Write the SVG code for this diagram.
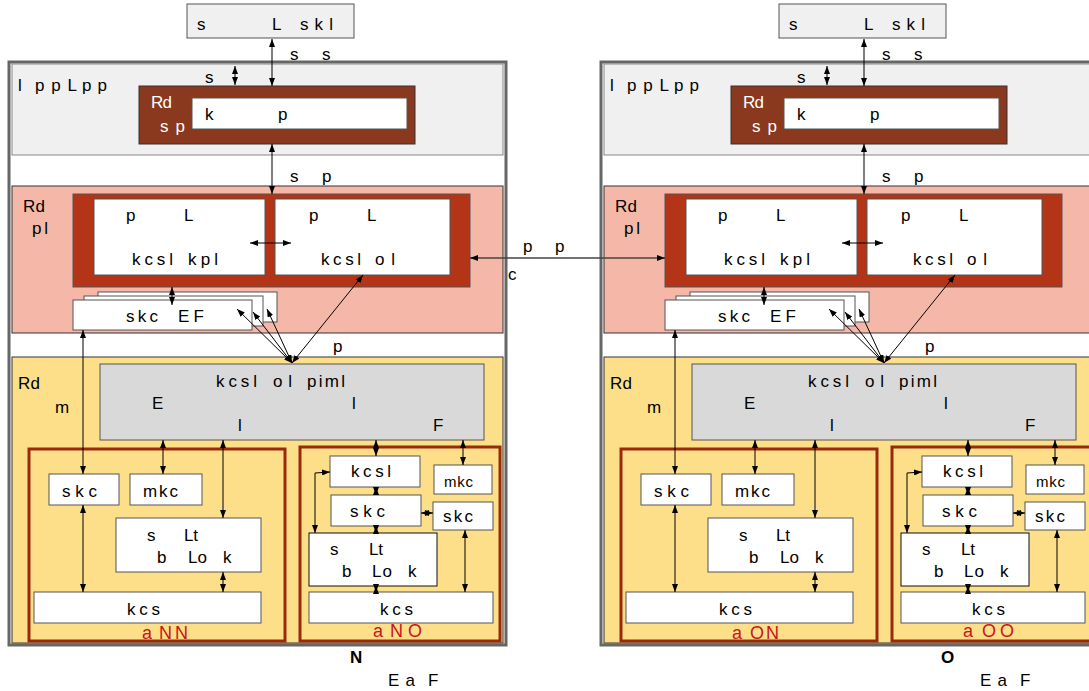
<svg xmlns="http://www.w3.org/2000/svg" width="1089" height="691" viewBox="0 0 1089 691">
<style>
text{font-family:"Liberation Sans",Arial,sans-serif;font-size:17px;fill:#000}
.w{fill:#fff}
.r{fill:#c8161a;font-size:18px}
.sm{font-size:15px}
.b{font-weight:bold}
.frame{fill:#fff;stroke:#666;stroke-width:3}
.band1{fill:#f0f0f0;stroke:#888;stroke-width:1}
.band2{fill:#f5b8a8;stroke:#333;stroke-width:1}
.band3{fill:#fddf8a;stroke:#333;stroke-width:1}
.box{fill:#fff;stroke:#555;stroke-width:1}
.boxd{fill:#fff;stroke:#111;stroke-width:1}
.gbox{fill:#f0f0f0;stroke:#555;stroke-width:1}
.brown{fill:#8a381e;stroke:#333;stroke-width:1}
.dred{fill:#b43417;stroke:#555;stroke-width:1}
.gray{fill:#d9d9d9;stroke:#555;stroke-width:1}
.clu{fill:#fddf8a;stroke:#9a2a0c;stroke-width:3}
.c{fill:none;stroke:#000;stroke-width:1;marker-start:url(#ah);marker-end:url(#ah)}
.cx{fill:none;stroke:#444;stroke-width:1.5;marker-start:url(#ah);marker-end:url(#ah)}
</style>
<defs>
<marker id="ah" viewBox="0 0 8 6" refX="8" refY="3" markerWidth="8" markerHeight="6" markerUnits="userSpaceOnUse" orient="auto-start-reverse">
<path d="M0,0 L8,3 L0,6 z" fill="#000"/>
</marker>
</defs>

<!-- LEFT PANEL -->
<g id="panel1">
  <g id="p1-server"><rect class="gbox" x="187" y="4" width="167" height="34"/>
    <text x="197" y="30">s</text><text x="272" y="30">L</text><text x="300" y="30" textLength="33">skl</text></g>
  <g id="p1-frame"><rect class="frame" x="9" y="62" width="497" height="583"/></g>
  <g id="p1-band-app"><rect class="band1" x="12" y="64" width="491" height="91"/>
    <text x="18" y="91">l</text><text x="35" y="91" textLength="42">ppL</text><text x="82" y="91" textLength="25">pp</text></g>
  <g id="p1-band-mid"><rect class="band2" x="12" y="186" width="491" height="147"/>
    <text x="23" y="212" textLength="22">Rd</text><text x="32" y="234" textLength="16">pl</text></g>
  <g id="p1-band-low"><rect class="band3" x="12" y="357" width="491" height="286"/>
    <text x="18" y="389" textLength="22">Rd</text><text x="55" y="413">m</text></g>
  <g id="p1-rdsp"><rect class="brown" x="139" y="86" width="276" height="58"/>
    <text class="w" x="151" y="108" textLength="21">Rd</text><text class="w" x="160" y="132" textLength="25">sp</text>
    <rect class="box" x="192" y="98" width="215" height="31"/>
    <text x="205" y="120">k</text><text x="278" y="120">p</text></g>
  <g id="p1-rdpl"><rect class="dred" x="73" y="194" width="397" height="93"/>
    <rect class="box" x="94" y="199" width="171" height="76"/>
    <text x="126" y="221">p</text><text x="184" y="221">L</text>
    <text x="132" y="265" textLength="41">kcsl</text><text x="188" y="265" textLength="30">kpl</text>
    <rect class="box" x="275" y="199" width="175" height="76"/>
    <text x="309" y="221">p</text><text x="367" y="221">L</text>
    <text x="321" y="265" textLength="40">kcsl</text><text x="375" y="265" textLength="20">ol</text></g>
  <g id="p1-skcef"><rect class="box" x="98" y="292" width="179" height="30"/>
    <rect class="box" x="84" y="296" width="179" height="30"/>
    <rect class="box" x="73" y="300" width="179" height="30"/>
    <text x="126" y="322" textLength="32">skc</text><text x="178" y="322" textLength="26">EF</text></g>
  <g id="p1-gray"><rect class="gray" x="100" y="364" width="384" height="76"/>
    <text x="216" y="387" textLength="41">kcsl</text><text x="273" y="387" textLength="19">ol</text><text x="307" y="387" textLength="38">piml</text>
    <text x="152" y="409">E</text><text x="352" y="409">l</text><text x="238" y="431">l</text><text x="433" y="431">F</text></g>
  <g id="p1-aNN"><rect class="clu" x="29" y="449" width="256" height="192"/>
    <text class="r" x="142" y="639">a</text><text class="r" x="159" y="639" textLength="29">NN</text></g>
  <g id="p1-aNN-skc"><rect class="box" x="49" y="474" width="70" height="31"/><text x="62" y="497" textLength="35">skc</text></g>
  <g id="p1-aNN-mkc"><rect class="box" x="130" y="474" width="72" height="31"/><text x="143" y="497" textLength="35">mkc</text></g>
  <g id="p1-aNN-slt"><rect class="box" x="116" y="518" width="145" height="54"/>
    <text x="147" y="541">s</text><text x="184" y="541" textLength="14">Lt</text>
    <text x="157" y="563">b</text><text x="188" y="563" textLength="19">Lo</text><text x="223" y="563">k</text></g>
  <g id="p1-aNN-kcs"><rect class="box" x="34" y="592" width="227" height="31"/><text x="127" y="615" textLength="33">kcs</text></g>
  <g id="p1-aNO"><rect class="clu" x="300" y="447" width="200" height="194"/>
    <text class="r" x="373" y="637">a</text><text class="r" x="390" y="637" textLength="32">NO</text></g>
  <g id="p1-aNO-kcsl"><rect class="box" x="330" y="456" width="90" height="31"/><text x="351" y="477" textLength="40">kcsl</text></g>
  <g id="p1-aNO-mkc"><rect class="box" x="434" y="465" width="58" height="29"/><text class="sm" x="444" y="487" textLength="29">mkc</text></g>
  <g id="p1-aNO-skc1"><rect class="box" x="331" y="495" width="90" height="31"/><text x="350" y="517" textLength="35">skc</text></g>
  <g id="p1-aNO-skc2"><rect class="box" x="433" y="502" width="60" height="28"/><text x="443" y="522" textLength="30">skc</text></g>
  <g id="p1-aNO-slt"><rect class="boxd" x="309" y="533" width="128" height="53"/>
    <text x="330" y="555">s</text><text x="369" y="555" textLength="14">Lt</text>
    <text x="342" y="577">b</text><text x="372" y="577" textLength="20">Lo</text><text x="408" y="577">k</text></g>
  <g id="p1-aNO-kcs"><rect class="box" x="309" y="592" width="184" height="31"/><text x="380" y="615" textLength="33">kcs</text></g>
  <g id="p1-labels">
    <text x="290" y="60">s</text><text x="322" y="60">s</text>
    <text x="205" y="83">s</text>
    <text x="290" y="182">s</text><text x="322" y="182">p</text>
    <text x="333" y="352">p</text>
    <text class="b" x="350" y="663">N</text>
    <text x="388" y="686" textLength="27">Ea</text><text x="428" y="686">F</text>
  </g>
</g>

<!-- RIGHT PANEL -->
<g id="panel2" transform="translate(592,0)">
  <g id="p2-server"><rect class="gbox" x="187" y="4" width="167" height="34"/>
    <text x="197" y="30">s</text><text x="272" y="30">L</text><text x="300" y="30" textLength="33">skl</text></g>
  <g id="p2-frame"><rect class="frame" x="9" y="62" width="497" height="583"/></g>
  <g id="p2-band-app"><rect class="band1" x="12" y="64" width="491" height="91"/>
    <text x="18" y="91">l</text><text x="35" y="91" textLength="42">ppL</text><text x="82" y="91" textLength="25">pp</text></g>
  <g id="p2-band-mid"><rect class="band2" x="12" y="186" width="491" height="147"/>
    <text x="23" y="212" textLength="22">Rd</text><text x="32" y="234" textLength="16">pl</text></g>
  <g id="p2-band-low"><rect class="band3" x="12" y="357" width="491" height="286"/>
    <text x="18" y="389" textLength="22">Rd</text><text x="55" y="413">m</text></g>
  <g id="p2-rdsp"><rect class="brown" x="139" y="86" width="276" height="58"/>
    <text class="w" x="151" y="108" textLength="21">Rd</text><text class="w" x="160" y="132" textLength="25">sp</text>
    <rect class="box" x="192" y="98" width="215" height="31"/>
    <text x="205" y="120">k</text><text x="278" y="120">p</text></g>
  <g id="p2-rdpl"><rect class="dred" x="73" y="194" width="397" height="93"/>
    <rect class="box" x="94" y="199" width="171" height="76"/>
    <text x="126" y="221">p</text><text x="184" y="221">L</text>
    <text x="132" y="265" textLength="41">kcsl</text><text x="188" y="265" textLength="30">kpl</text>
    <rect class="box" x="275" y="199" width="175" height="76"/>
    <text x="309" y="221">p</text><text x="367" y="221">L</text>
    <text x="321" y="265" textLength="40">kcsl</text><text x="375" y="265" textLength="20">ol</text></g>
  <g id="p2-skcef"><rect class="box" x="98" y="292" width="179" height="30"/>
    <rect class="box" x="84" y="296" width="179" height="30"/>
    <rect class="box" x="73" y="300" width="179" height="30"/>
    <text x="126" y="322" textLength="32">skc</text><text x="178" y="322" textLength="26">EF</text></g>
  <g id="p2-gray"><rect class="gray" x="100" y="364" width="384" height="76"/>
    <text x="216" y="387" textLength="41">kcsl</text><text x="273" y="387" textLength="19">ol</text><text x="307" y="387" textLength="38">piml</text>
    <text x="152" y="409">E</text><text x="352" y="409">l</text><text x="238" y="431">l</text><text x="433" y="431">F</text></g>
  <g id="p2-aON"><rect class="clu" x="29" y="449" width="256" height="192"/>
    <text class="r" x="140" y="639">a</text><text class="r" x="158" y="639" textLength="29">ON</text></g>
  <g id="p2-aON-skc"><rect class="box" x="49" y="474" width="70" height="31"/><text x="62" y="497" textLength="35">skc</text></g>
  <g id="p2-aON-mkc"><rect class="box" x="130" y="474" width="72" height="31"/><text x="143" y="497" textLength="35">mkc</text></g>
  <g id="p2-aON-slt"><rect class="box" x="116" y="518" width="145" height="54"/>
    <text x="147" y="541">s</text><text x="184" y="541" textLength="14">Lt</text>
    <text x="157" y="563">b</text><text x="188" y="563" textLength="19">Lo</text><text x="223" y="563">k</text></g>
  <g id="p2-aON-kcs"><rect class="box" x="34" y="592" width="227" height="31"/><text x="127" y="615" textLength="33">kcs</text></g>
  <g id="p2-aOO"><rect class="clu" x="300" y="447" width="200" height="194"/>
    <text class="r" x="371" y="637">a</text><text class="r" x="390" y="637" textLength="32">OO</text></g>
  <g id="p2-aOO-kcsl"><rect class="box" x="330" y="456" width="90" height="31"/><text x="351" y="477" textLength="40">kcsl</text></g>
  <g id="p2-aOO-mkc"><rect class="box" x="434" y="465" width="58" height="29"/><text class="sm" x="444" y="487" textLength="29">mkc</text></g>
  <g id="p2-aOO-skc1"><rect class="box" x="331" y="495" width="90" height="31"/><text x="350" y="517" textLength="35">skc</text></g>
  <g id="p2-aOO-skc2"><rect class="box" x="433" y="502" width="60" height="28"/><text x="443" y="522" textLength="30">skc</text></g>
  <g id="p2-aOO-slt"><rect class="boxd" x="309" y="533" width="128" height="53"/>
    <text x="330" y="555">s</text><text x="369" y="555" textLength="14">Lt</text>
    <text x="342" y="577">b</text><text x="372" y="577" textLength="20">Lo</text><text x="408" y="577">k</text></g>
  <g id="p2-aOO-kcs"><rect class="box" x="309" y="592" width="184" height="31"/><text x="380" y="615" textLength="33">kcs</text></g>
  <g id="p2-labels">
    <text x="290" y="60">s</text><text x="322" y="60">s</text>
    <text x="205" y="83">s</text>
    <text x="290" y="182">s</text><text x="322" y="182">p</text>
    <text x="333" y="352">p</text>
    <text class="b" x="349" y="663">O</text>
    <text x="388" y="686" textLength="27">Ea</text><text x="428" y="686">F</text>
  </g>
</g>

<g id="cross-labels">
  <text x="523" y="252">p</text><text x="555" y="252">p</text><text x="508" y="280">c</text>
</g>

<g id="connectors">
  <line class="cx" x1="470" y1="258" x2="665" y2="258"/>
  <g id="conn-p1">
    <line class="c" x1="272" y1="39" x2="272" y2="86"/>
    <line class="c" x1="235" y1="66" x2="235" y2="85"/>
    <line class="c" x1="272" y1="144" x2="272" y2="194"/>
    <line class="c" x1="250" y1="243" x2="291" y2="243"/>
    <line class="c" x1="172" y1="287" x2="172" y2="305"/>
    <line class="c" x1="292" y1="363" x2="237" y2="309"/>
    <line class="c" x1="292" y1="363" x2="253" y2="312"/>
    <line class="c" x1="292" y1="363" x2="267" y2="309"/>
    <line class="c" x1="292" y1="363" x2="363" y2="275"/>
    <line class="c" x1="83" y1="330" x2="83" y2="474"/>
    <line class="c" x1="163" y1="440" x2="163" y2="474"/>
    <line class="c" x1="223" y1="440" x2="223" y2="518"/>
    <line class="c" x1="83" y1="505" x2="83" y2="592"/>
    <line class="c" x1="223" y1="572" x2="223" y2="592"/>
    <line class="c" x1="376" y1="440" x2="376" y2="456"/>
    <line class="c" x1="463" y1="440" x2="463" y2="465"/>
    <line class="c" x1="376" y1="487" x2="376" y2="495"/>
    <line class="c" x1="376" y1="526" x2="376" y2="533"/>
    <line class="c" x1="376" y1="586" x2="376" y2="592"/>
    <line class="c" x1="421" y1="513" x2="433" y2="513"/>
    <polyline class="c" points="315,533 315,473 330,472"/>
    <line class="c" x1="465" y1="530" x2="465" y2="592"/>
  </g>
  <g id="conn-p2" transform="translate(592,0)">
    <line class="c" x1="272" y1="39" x2="272" y2="86"/>
    <line class="c" x1="235" y1="66" x2="235" y2="85"/>
    <line class="c" x1="272" y1="144" x2="272" y2="194"/>
    <line class="c" x1="250" y1="243" x2="291" y2="243"/>
    <line class="c" x1="172" y1="287" x2="172" y2="305"/>
    <line class="c" x1="292" y1="363" x2="237" y2="309"/>
    <line class="c" x1="292" y1="363" x2="253" y2="312"/>
    <line class="c" x1="292" y1="363" x2="267" y2="309"/>
    <line class="c" x1="292" y1="363" x2="363" y2="275"/>
    <line class="c" x1="83" y1="330" x2="83" y2="474"/>
    <line class="c" x1="163" y1="440" x2="163" y2="474"/>
    <line class="c" x1="223" y1="440" x2="223" y2="518"/>
    <line class="c" x1="83" y1="505" x2="83" y2="592"/>
    <line class="c" x1="223" y1="572" x2="223" y2="592"/>
    <line class="c" x1="376" y1="440" x2="376" y2="456"/>
    <line class="c" x1="463" y1="440" x2="463" y2="465"/>
    <line class="c" x1="376" y1="487" x2="376" y2="495"/>
    <line class="c" x1="376" y1="526" x2="376" y2="533"/>
    <line class="c" x1="376" y1="586" x2="376" y2="592"/>
    <line class="c" x1="421" y1="513" x2="433" y2="513"/>
    <polyline class="c" points="315,533 315,473 330,472"/>
    <line class="c" x1="465" y1="530" x2="465" y2="592"/>
  </g>
</g>
</svg>
